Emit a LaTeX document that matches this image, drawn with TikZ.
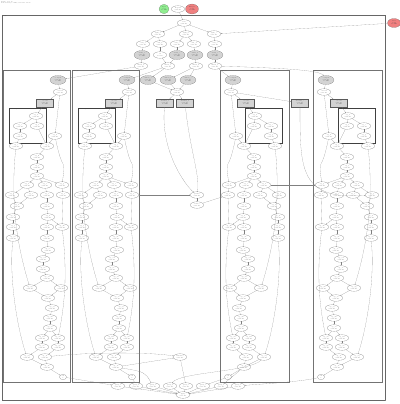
\documentclass[tikz,border=0pt]{standalone}
\usetikzlibrary{shapes.geometric,arrows.meta}
\definecolor{lgreen}{HTML}{90EE90}
\definecolor{lcoral}{HTML}{F08080}
\definecolor{lgray}{HTML}{D3D3D3}
\tikzset{
 base/.style={draw=black!65,line width=0.25pt,inner sep=0.2mm,font=\fontsize{3.8}{4.2}\selectfont,align=center,text=black!75},
 nd/.style={base,ellipse,fill=white,minimum width=13.5mm,minimum height=6.5mm},
 gnd/.style={base,ellipse,fill=lgray,minimum width=16mm,minimum height=9mm},
 grect/.style={base,rectangle,fill=lgray,minimum width=17mm,minimum height=8.5mm},
 smallnd/.style={base,ellipse,fill=white,minimum width=7mm,minimum height=5.5mm},
 ed/.style={draw=black!50,line width=0.25pt,-{Stealth[length=0.9mm,width=0.7mm]}},
 clbox/.style={draw=black!55,line width=0.8pt},
 ibox/.style={draw=black!75,line width=0.4pt},
 cllab/.style={font=\fontsize{3.5}{3.9}\selectfont,anchor=north west,inner sep=0.4mm,text=black!75},
}
\newcommand{\mkcluster}[3]{%
\begin{scope}[shift={(#2,0)},xscale=#3]
\def\p{#1}
\node[gnd] (\p-a) at (55,80) {#1 input\\ 0.12 ms\\ 1.5 MB};
\node[nd] (\p-b) at (57,92) {#1 read\\ 0.01 ms};
\node[grect] (\p-c) at (42,103) {#1 conv\\ 0.45 ms\\ 2.0 MB};
\draw[ibox] (6,108) rectangle (43,143);
\foreach \n/\x/\y in {d/33/116,e/17/126,f/34/126,g/17/136,h/52/136,i/13/146,j/44/146,k/34/157,l/34/167,m/34/176,n/24/185,o/42/185,p/59/185,q/9/195,r/28/195,s/44/195,t/60/195,u/14/206,v/44/206,w/10/217,x/45/217,y/10/227,z/44/227,zz/59/227,aa/10/238,ab/44/238,ac/45/250,ad/40/259,ae/40/269,af/44/278,ag/27/288,ah/58/288,ai/45/298,aj/49/308,ak/47/318,al/47/328,am/39/338,an/55/338,ao/39/347,ap/55/347,aq/24/357,ar/42/357,as/44/367}
 {\node[nd] (\p-\n) at (\x,\y) {op\_\n\\ 0.02 ms};}
\node[smallnd] (\p-at) at (60,377) {out\\ 1};
\foreach \s/\t in {a/b,b/c,c/d,d/e,d/f,e/g,g/i,f/j,b/h,h/j,j/k,k/l,l/m,m/n,m/o,m/p,n/q,n/r,o/s,p/t,q/u,r/u,s/v,t/zz,u/w,v/x,w/y,x/z,x/zz,y/aa,z/ab,ab/ac,ac/ad,ad/ae,ae/af,af/ag,af/ah,ag/ai,ah/ai,ai/aj,aj/ak,ak/al,al/am,al/an,am/ao,an/ap,ao/aq,ap/ar,ar/as,aq/as,as/at}
 {\draw[ed] (\p-\s) -- (\p-\t);}
\draw[ed] (\p-aa) .. controls +(-4,40) and +(-10,-30) .. (\p-aq);
\draw[ed] (\p-i) .. controls +(-6,60) and +(-12,-40) .. (\p-ag);
\draw[ed] (\p-zz) .. controls +(6,50) and +(6,-30) .. (\p-an);
\draw[ed] (\p-h) .. controls +(8,40) and +(4,-30) .. (\p-p);
\end{scope}}
\begin{document}
\begin{tikzpicture}[x=1mm,y=-1mm]
\useasboundingbox (0,0) rectangle (400,404);
\node[anchor=north west,font=\fontsize{3.5}{4.1}\selectfont,align=left,inner sep=0,text=black!70] (hdr) at (1,1.5) {Profile: step 12\\ Peak memory 1.8 GB, total time 4.2 ms};
\draw[dash pattern=on 1.2pt off 0.7pt,draw=black!60,line width=0.5pt] (2,15) rectangle (385,400);
\node[cllab] (glab) at (2,15) {graph};
% cluster frames
\draw[clbox] (3,70) rectangle (70,382);
\draw[clbox] (72,70) rectangle (139,382);
\draw[clbox] (220,70) rectangle (289,382);
\draw[clbox] (313,70) rectangle (382,382);
\node[cllab] (l1) at (3,70) {tower\_0};
\node[cllab] (l2) at (72,70) {tower\_1};
\node[cllab] (l3) at (220,70) {tower\_2};
\node[cllab] (l4) at (313,70) {tower\_3};
\mkcluster{c1}{3}{1}
\mkcluster{c2}{72}{1}
\mkcluster{c3}{288}{-1}
\mkcluster{c4}{381}{-1}
\node[cllab] (il1) at (9,108) {while loop};
\node[cllab] (il2) at (78,108) {while loop};
\node[cllab] (il3) at (245,108) {while loop};
\node[cllab] (il4) at (338,108) {while loop};
% legend
\node[base,ellipse,fill=lgreen,minimum width=10mm,minimum height=9.5mm] (lg1) at (164,9) {Input\\ 3 ops\\ 0.1 MB};
\node[nd] (lg2) at (178,9) {Legend\\ 0.00 ms};
\node[base,ellipse,fill=lcoral,minimum width=13mm,minimum height=10mm] (lg3) at (192,9) {Output\\ peak\\ 1.2 MB};
\node[base,ellipse,fill=lcoral,minimum width=13mm,minimum height=9mm] (r1) at (394,23) {Loss\\ peak\\ 0.8 MB};
% top rows
\node[nd] (t1) at (184,23) {root\\ 0.02 ms};
\node[nd] (t2) at (158,34) {split\_a\\ 0.01 ms};
\node[nd] (t3) at (186,34) {split\_b\\ 0.01 ms};
\node[nd] (t4) at (214,34) {split\_c\\ 0.01 ms};
\node[nd] (t5) at (143,44) {cast\_a\\ 0.03 ms};
\node[nd] (t6) at (160,44) {cast\_b\\ 0.03 ms};
\node[nd] (t7) at (177,44) {cast\_c\\ 0.03 ms};
\node[nd] (t8) at (194,44) {cast\_d\\ 0.03 ms};
\node[nd] (t9) at (215,44) {cast\_e\\ 0.03 ms};
\node[gnd] (g5) at (142,55) {norm\_a\\ 0.21 ms\\ 0.6 MB};
\node[nd] (w6) at (160,55) {id\\ 0.0 ms};
\node[gnd] (g7) at (177,55) {norm\_c\\ 0.21 ms\\ 0.6 MB};
\node[gnd] (g8) at (195,55) {norm\_d\\ 0.21 ms\\ 0.6 MB};
\node[gnd] (g9) at (215,55) {norm\_e\\ 0.21 ms\\ 0.6 MB};
\node[nd] (s1) at (141,66) {shard\_0\\ 0.01 ms};
\node[nd] (s2) at (168,66) {shard\_1\\ 0.01 ms};
\node[nd] (s3) at (196,66) {shard\_2\\ 0.01 ms};
\node[nd] (s4) at (215,66) {shard\_3\\ 0.01 ms};
\node[gnd] (ga) at (148,80) {embed\_a\\ 0.18 ms\\ 0.9 MB};
\node[gnd] (gb) at (168,80) {embed\_b\\ 0.18 ms\\ 0.9 MB};
\node[gnd] (gc) at (188,80) {embed\_c\\ 0.18 ms\\ 0.9 MB};
\node[nd] (m1) at (177,92) {concat\\ 0.02 ms};
\node[grect] (ra) at (165,103) {matmul\_a\\ 0.52 ms\\ 2.4 MB};
\node[grect] (rb) at (185,103) {matmul\_b\\ 0.52 ms\\ 2.4 MB};
\node[grect] (rc) at (300,103) {matmul\_c\\ 0.52 ms\\ 2.4 MB};
\node[nd] (mid1) at (197,195) {gather\\ 0.04 ms};
\node[nd] (mid2) at (197,205) {reduce\\ 0.03 ms};
\node[nd] (mid3) at (180,357) {allreduce\\ 0.09 ms};
\foreach \n/\x in {1/118,2/136,3/153,4/170,5/186,6/203,7/221,8/238}
 {\node[nd] (b\n) at (\x,386) {grad\_\n\\ 0.05 ms};}
\node[nd] (fin) at (183,395) {apply\\ 0.11 ms};
% edges
\foreach \s/\t in {lg2/t1,t1/t2,t1/t3,t1/t4,t2/t5,t2/t6,t3/t7,t3/t8,t4/t9,t5/g5,t6/w6,t7/g7,t8/g8,t9/g9,g5/s1,w6/s2,g7/s2,g8/s3,g9/s4,s2/ga,s3/gb,s3/gc,ga/m1,gb/m1,gc/m1,m1/ra,m1/rb,mid1/mid2,b1/fin,b2/fin,b3/fin,b4/fin,b5/fin,b6/fin,b7/fin,b8/fin,mid3/b5}
 {\draw[ed] (\s) -- (\t);}
\draw[ed] (r1) -- (t4);
\draw[ed] (s1) -- (c1-a);
\draw[ed] (s2) -- (c2-a);
\draw[ed] (s4) -- (c3-a);
\draw[ed] (s4) .. controls (280,68) and (320,70) .. (c4-a);
\draw[ed] (c3-b) -- (rc);
\draw[ed] (ra) .. controls (160,150) and (185,185) .. (mid1);
\draw[ed] (rb) .. controls (190,150) and (200,175) .. (mid1);
\draw[ed] (rc) .. controls (300,170) and (300,200) .. (c4-q);
\draw[ed] (c2-t) -- (mid1);
\draw[ed] (mid2) -- (c3-t);
\draw[ed] (c3-n) -- (c4-p);
\draw[ed] (c1-ar) .. controls (90,352) and (150,352) .. (mid3);
\draw[ed] (c2-as) -- (mid3);
\draw[ed] (c1-at) -- (b1);
\draw[ed] (c2-at) -- (b2);
\draw[ed] (c2-as) .. controls (145,372) .. (b3);
\draw[ed] (c3-aq) .. controls (250,372) and (180,372) .. (b4);
\draw[ed] (c3-at) -- (b6);
\draw[ed] (c3-as) -- (b7);
\draw[ed] (c4-at) .. controls (300,382) and (260,384) .. (b8);
\end{tikzpicture}
\end{document}
